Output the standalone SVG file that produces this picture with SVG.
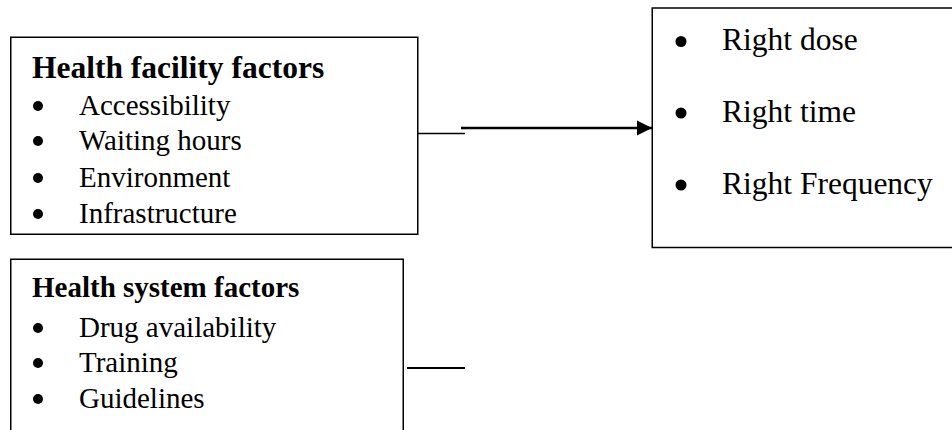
<svg xmlns="http://www.w3.org/2000/svg" width="952" height="430" viewBox="0 0 952 430">
<style>
.box{fill:#fff;stroke:#000;stroke-width:1.5}
.t{font-family:"Liberation Serif","Times New Roman",serif;fill:#000}
.h1{font-size:31.5px;font-weight:bold}
.h2{font-size:29px;font-weight:bold}
.b{font-size:29px}
.r{font-size:31.5px}
.c{stroke:#000;fill:none}
</style>
<defs>
<marker id="ah" markerUnits="userSpaceOnUse" markerWidth="16" markerHeight="16" refX="15" refY="8" orient="auto">
<path d="M0,0.5 L15,8 L0,15.5 Z" fill="#000"/>
</marker>
</defs>
<rect width="952" height="430" fill="#fff"/>
<g id="facility">
<rect class="box" x="10.75" y="37.25" width="407" height="197"/>
<text class="t h1" x="32" y="78">Health facility factors</text>
<g fill="#000"><circle cx="38" cy="106" r="5"/><circle cx="38" cy="141" r="5"/><circle cx="38" cy="178" r="5"/><circle cx="38" cy="214" r="5"/></g>
<text class="t b" x="79" y="115">Accessibility</text>
<text class="t b" x="79" y="150">Waiting hours</text>
<text class="t b" x="79" y="187">Environment</text>
<text class="t b" x="79" y="223">Infrastructure</text>
</g>
<g id="system">
<rect class="box" x="10.75" y="259.25" width="392.5" height="200"/>
<text class="t h2" x="32" y="297">Health system factors</text>
<g fill="#000"><circle cx="38" cy="328" r="5"/><circle cx="38" cy="363" r="5"/><circle cx="38" cy="399" r="5"/></g>
<text class="t b" x="79" y="337">Drug availability</text>
<text class="t b" x="79" y="372">Training</text>
<text class="t b" x="79" y="408">Guidelines</text>
</g>
<g id="outcomes">
<rect class="box" x="652.25" y="8" width="320" height="239.5"/>
<g fill="#000"><circle cx="681" cy="41.5" r="5.5"/><circle cx="681" cy="113" r="5.5"/><circle cx="681" cy="185" r="5.5"/></g>
<text class="t r" x="722" y="50">Right dose</text>
<text class="t r" x="722" y="122">Right time</text>
<text class="t r" x="722" y="193.5">Right Frequency</text>
</g>
<g id="connectors">
<line class="c" x1="418" y1="133.5" x2="465" y2="133.5" stroke-width="1.5"/>
<line class="c" x1="461" y1="128" x2="652" y2="128" stroke-width="2.5" marker-end="url(#ah)"/>
<line class="c" x1="407" y1="368" x2="465" y2="368" stroke-width="2"/>
</g>
</svg>
